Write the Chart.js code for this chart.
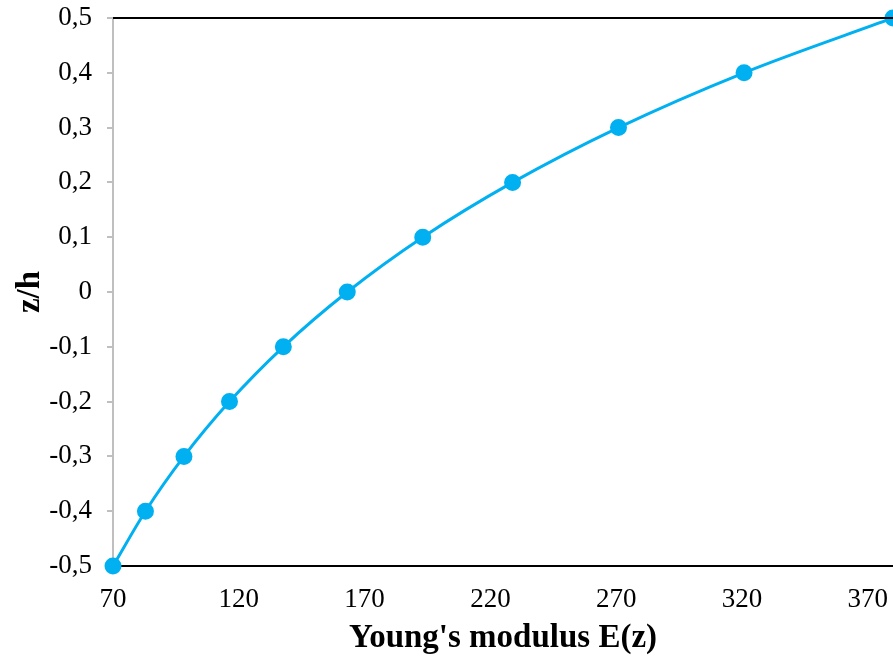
<!DOCTYPE html>
<html>
<head>
<meta charset="utf-8">
<script src="https://cdn.jsdelivr.net/npm/chart.js@4"></script>
<style>
  html, body { margin: 0; padding: 0; background: #fff; }
  #wrap { width: 893px; height: 657px; }
</style>
</head>
<body>
<div id="wrap"><canvas id="c"></canvas></div>
<script>
// values
const zh = [-0.5, -0.4, -0.3, -0.2, -0.1, 0, 0.1, 0.2, 0.3, 0.4, 0.5];
const youngs = [70, 82.9, 98.2, 116.3, 137.7, 163.1, 193.1, 228.8, 270.9, 320.8, 380];
const xTicks = [70, 120, 170, 220, 270, 320, 370];
const yTicks = [-0.5, -0.4, -0.3, -0.2, -0.1, 0, 0.1, 0.2, 0.3, 0.4, 0.5];

const blue = "#00B0F0";
const serif = "'Liberation Serif', 'Times New Roman', serif";

// black frame line on top like the excel plot
const frameLines = {
    id: "frameLines",
    afterDraw(chart) {
        const { ctx, chartArea } = chart;
        ctx.save();
        ctx.strokeStyle = "#000";
        ctx.lineWidth = 2;
        ctx.beginPath();
        ctx.moveTo(chartArea.left, chartArea.top);
        ctx.lineTo(chartArea.right, chartArea.top);
        ctx.stroke();
        ctx.restore();
    },
};

new Chart(document.getElementById("c"), {
    type: "scatter",
    data: {
        datasets: [
            {
                data: youngs.map((x, i) => ({ x, y: zh[i] })),
                showLine: true,
                tension: 0.4,
                cubicInterpolationMode: "monotone",
                borderColor: blue,
                backgroundColor: blue,
                borderWidth: 3,
                pointRadius: 7,
                pointHoverRadius: 7,
                clip: false,
            },
        ],
    },
    options: {
        responsive: true,
        maintainAspectRatio: false,
        animation: false,
        layout: { autoPadding: false, padding: { top: 18, right: 0, left: 0, bottom: 0 } },
        plugins: {
            legend: { display: false },
            tooltip: { enabled: false },
        },
        scales: {
            x: {
                type: "linear",
                min: 70,
                max: 380,
                afterBuildTicks: (scale) => {
                    scale.ticks = xTicks.map((v) => ({ value: v }));
                },
                afterFit: (scale) => {
                    scale.paddingLeft = 0;
                    scale.paddingRight = 0;
                    scale.height = 91;
                },
                grid: { display: false, drawTicks: false },
                border: { display: true, color: "#000", width: 2 },
                ticks: {
                    color: "#000",
                    font: { family: serif, size: 27 },
                    padding: 18,
                    maxRotation: 0,
                },
                title: {
                    display: true,
                    text: "Young's modulus E(z)",
                    color: "#000",
                    font: { family: serif, size: 33, weight: "bold", lineHeight: 1 },
                    padding: { top: 0, bottom: 2 },
                },
            },
            y: {
                type: "linear",
                min: -0.5,
                max: 0.5,
                afterBuildTicks: (scale) => {
                    scale.ticks = yTicks.map((v) => ({ value: v }));
                },
                afterFit: (scale) => {
                    scale.paddingTop = 0;
                    scale.paddingBottom = 0;
                    scale.width = 113;
                },
                grid: {
                    drawOnChartArea: false,
                    drawTicks: true,
                    tickLength: 6,
                    color: "#bfbfbf",
                    lineWidth: 2,
                },
                border: { display: true, color: "#bfbfbf", width: 2 },
                ticks: {
                    color: "#000",
                    font: { family: serif, size: 27 },
                    padding: 15,
                    callback: (v) => (v === 0 ? "0" : v.toFixed(1).replace(".", ",")),
                },
                title: {
                    display: true,
                    text: "z/h",
                    color: "#000",
                    font: { family: serif, size: 33, weight: "bold", lineHeight: 1 },
                    padding: { top: 14, bottom: 0 },
                },
            },
        },
    },
    plugins: [frameLines],
});
</script>
</body>
</html>
